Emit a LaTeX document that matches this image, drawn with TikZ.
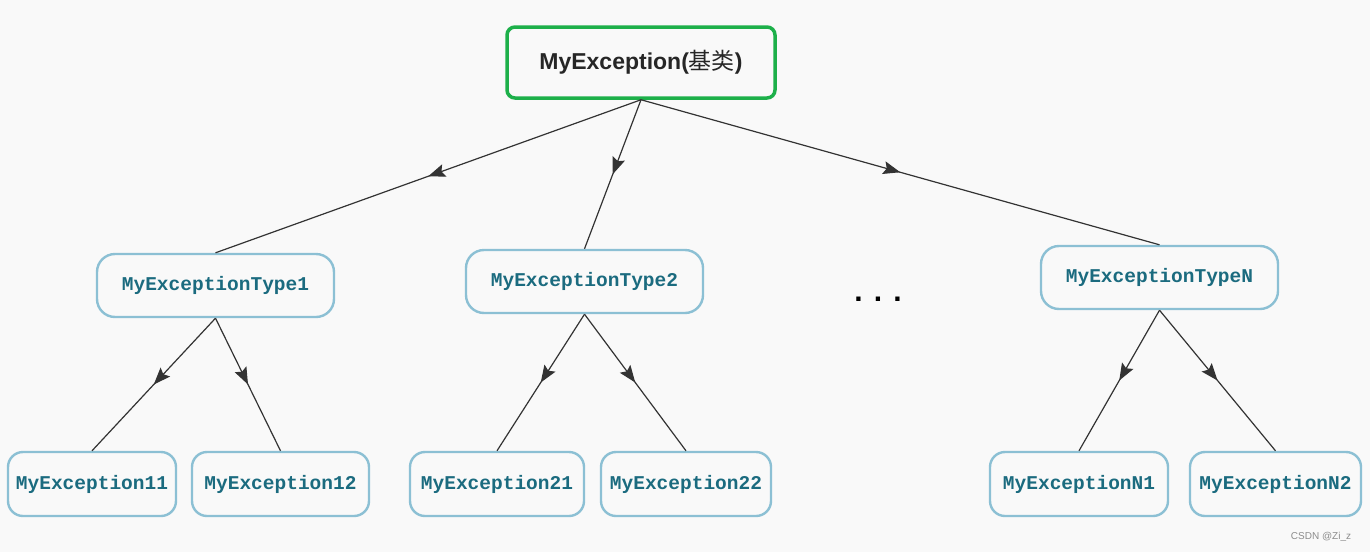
\documentclass[tikz,border=0pt]{standalone}
\usepackage{fontspec}
\setmainfont{Liberation Sans}
\newfontfamily\monofnt{Liberation Mono}
\newfontfamily\cjk{Noto Sans CJK SC}
\usetikzlibrary{arrows.meta,decorations.markings}
\definecolor{bgc}{HTML}{F9F9F9}
\definecolor{tealtxt}{HTML}{1B6B7F}
\definecolor{blueborder}{HTML}{8CC0D4}
\definecolor{greenborder}{HTML}{1DB04A}
\definecolor{edgec}{HTML}{333333}
\tikzset{
  rootbox/.style={draw=greenborder, line width=3.5pt, rounded corners=8pt, fill=bgc,
    minimum width=268pt, minimum height=71pt, inner sep=0pt,
    font=\fontsize{23}{27}\selectfont\bfseries, text=black!85},
  typebox/.style={draw=blueborder, line width=2.4pt, rounded corners=18pt, fill=bgc,
    minimum width=237pt, minimum height=63pt, inner sep=0pt,
    font=\monofnt\fontsize{19.5}{22}\selectfont\bfseries, text=tealtxt},
  leafbox/.style={draw=blueborder, line width=2.4pt, rounded corners=15pt, fill=bgc,
    minimum height=64pt, inner sep=0pt,
    font=\monofnt\fontsize{19.5}{22}\selectfont\bfseries, text=tealtxt},
  midarrow/.style={draw=edgec, line width=1.2pt,
    postaction={decorate},
    decoration={markings, mark=at position 0.5 with {\arrow{Stealth[length=17pt,width=13pt,inset=3pt]}}}}
}
\begin{document}
\begin{tikzpicture}[x=1pt,y=-1pt]
\fill[bgc] (0,0) rectangle (1370,552);
\useasboundingbox (0,0) rectangle (1370,552);

\node[rootbox] (root) at (641,62.5) {MyException({\cjk\mdseries 基类})};

\node[typebox] (t1) at (215.5,285.5) {MyExceptionType1};
\node[typebox] (t2) at (584.5,281.5) {MyExceptionType2};
\node[typebox] (tn) at (1159.5,277.5) {MyExceptionTypeN};

\node[font=\fontsize{30}{32}\selectfont\bfseries] (dots) at (878,299) {. . .};

\node[leafbox, minimum width=168pt] (l11) at (92,484) {MyException11};
\node[leafbox, minimum width=177pt] (l12) at (280.5,484) {MyException12};
\node[leafbox, minimum width=174pt] (l21) at (497,484) {MyException21};
\node[leafbox, minimum width=170pt] (l22) at (686,484) {MyException22};
\node[leafbox, minimum width=178pt] (ln1) at (1079,484) {MyExceptionN1};
\node[leafbox, minimum width=171pt] (ln2) at (1275.5,484) {MyExceptionN2};

\path[midarrow] (root.south) -- (t1.north);
\path[midarrow] (root.south) -- (t2.north);
\path[midarrow] (root.south) -- (tn.north);
\path[midarrow] (t1.south) -- (l11.north);
\path[midarrow] (t1.south) -- (l12.north);
\path[midarrow] (t2.south) -- (l21.north);
\path[midarrow] (t2.south) -- (l22.north);
\path[midarrow] (tn.south) -- (ln1.north);
\path[midarrow] (tn.south) -- (ln2.north);

\node[font=\fontsize{10}{11}\selectfont, text=black!45] (wm) at (1321,537) {CSDN @Zi\_z};
\end{tikzpicture}
\end{document}
